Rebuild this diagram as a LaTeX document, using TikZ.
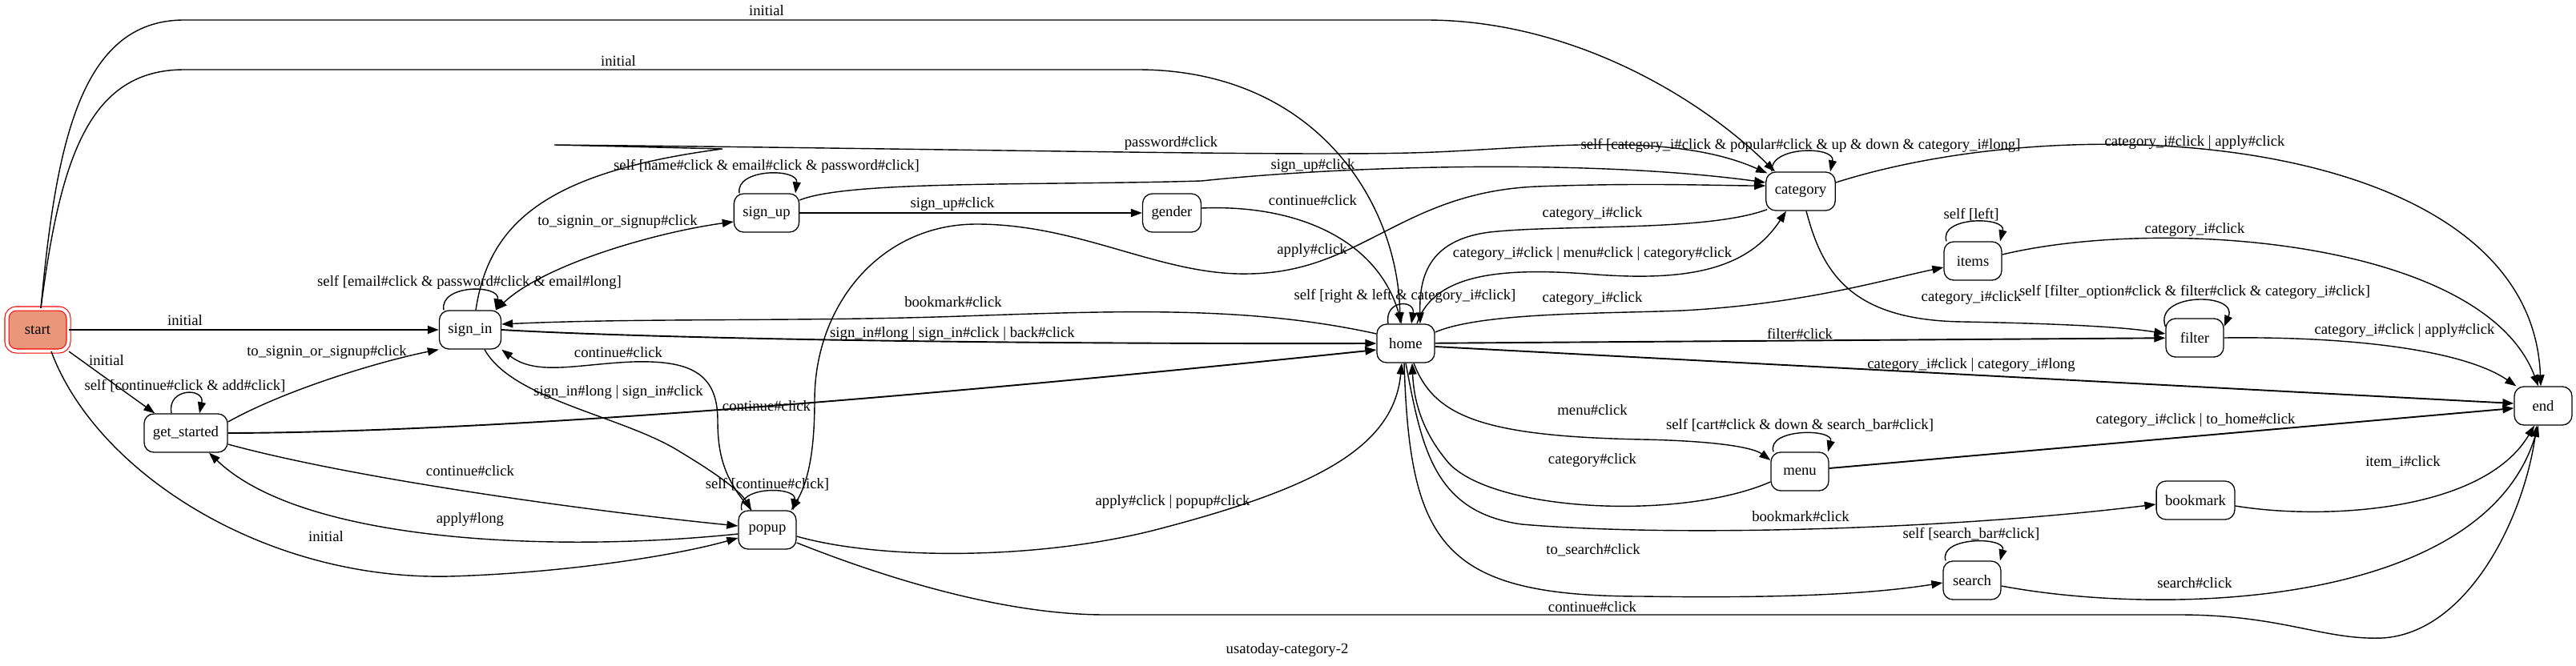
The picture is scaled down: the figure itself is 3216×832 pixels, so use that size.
\documentclass[tikz,border=0pt]{standalone}
\usepackage{fontspec}
\setmainfont{Liberation Serif}
\usetikzlibrary{arrows.meta}
\definecolor{startfill}{HTML}{E9967A}
\newcommand\gvfont{\fontsize{18.7pt}{22pt}\selectfont}
\tikzset{
  every node/.style={font=\gvfont},
  stnode/.style={draw, rounded corners=12pt, minimum width=72pt, minimum height=48pt, inner xsep=11pt, line width=1.3pt},
  trans/.style={-{Triangle[length=14pt,width=10pt]}, line width=1.4pt},
  twoway/.style={{Triangle[length=14pt,width=10pt]}-{Triangle[length=14pt,width=10pt]}},
  heavy/.style={line width=1.9pt},
  lbl/.style={inner sep=0pt},
}
\begin{document}
\begin{tikzpicture}[x=1pt,y=-1pt]
\useasboundingbox (0,0) rectangle (3216,832);
% states
\node [stnode, fill=startfill, draw=red, double=white, double distance=4pt, line width=1.1pt, minimum width=77pt, minimum height=53pt] (start) at (47,412) {start};
\node [stnode] (sign_in) at (587,412) {sign\_in};
\node [stnode] (get_started) at (232,541) {get\_started};
\node [stnode] (popup) at (958,662) {popup};
\node [stnode] (sign_up) at (957,266) {sign\_up};
\node [stnode] (gender) at (1463,266) {gender};
\node [stnode] (home) at (1755,429) {home};
\node [stnode] (category) at (2248,239) {category};
\node [stnode] (items) at (2463,326) {items};
\node [stnode] (filter) at (2740,422) {filter};
\node [stnode] (end) at (3175,507) {end};
\node [stnode] (menu) at (2247,589) {menu};
\node [stnode] (bookmark) at (2741,625) {bookmark};
\node [stnode] (search) at (2462,725) {search};
\node (title) at (1607,812) {usatoday-category-2};
% from start
\draw [trans] ([xshift=4pt]start.north) .. controls (70,180) and (100,25) .. (230,25) -- (1780,25) .. controls (1960,25) and (2120,120) .. ([xshift=-32pt]category.north);
\draw [trans] ([xshift=4pt]start.north) .. controls (75,200) and (110,87) .. (230,87) -- (1420,87) .. controls (1640,87) and (1745,250) .. ([xshift=-7pt]home.north);
\draw [trans,heavy] (start) -- (sign_in);
\draw [trans] (start.south east) -- ([xshift=14pt]get_started.north west);
\draw [trans] ([xshift=17pt]start.south) .. controls (120,590) and (330,725) .. (561,720) .. controls (700,716) and (840,695) .. ([yshift=-10pt]popup.west);
\node [lbl] (l-ini-cat) at (957,13) {initial};
\node [lbl] (l-ini-home) at (772,76) {initial};
\node [lbl] (l-ini-sin) at (231,400) {initial};
\node [lbl] (l-ini-gs) at (133,450) {initial};
\node [lbl] (l-ini-pop) at (407,670) {initial};
% get_started
\draw [trans] ([xshift=-18pt]get_started.north) .. controls (208,484) and (256,484) .. ([xshift=17pt]get_started.north);
\draw [trans] ([yshift=14pt]get_started.east) .. controls (360,485) and (480,450) .. (sign_in.south west);
\draw [trans,heavy] (get_started.east) .. controls (700,540) and (1400,470) .. ([yshift=-8pt]home.west);
\draw [trans] ([yshift=-14pt]get_started.east) .. controls (450,600) and (750,640) .. ([yshift=5pt]popup.west);
\draw [trans] ([yshift=-5pt]popup.west) .. controls (700,690) and (380,680) .. ([xshift=29pt]get_started.south);
\node [lbl] (l-gs-self) at (231,482) {self [continue\#click \& add\#click]};
\node [lbl] (l-gs-sin) at (408,440) {to\_signin\_or\_signup\#click};
\node [lbl] (l-gs-home) at (957,507) {continue\#click};
\node [lbl] (l-gs-pop) at (587,588) {continue\#click};
\node [lbl] (l-pop-gs) at (587,649) {apply\#long};
% sign_in
\draw [trans] ([xshift=-33pt]sign_in.north) .. controls (548,355) and (625,355) .. ([xshift=32pt]sign_in.north);
\draw [trans,twoway] ([xshift=32pt]sign_in.north) .. controls (680,330) and (820,290) .. ([yshift=-11pt]sign_up.west);
\draw [trans] ([xshift=7pt]sign_in.north) .. controls (610,280) and (680,215) .. (902,186) -- (692,181) .. controls (1200,186) and (1600,195) .. (1760,191) .. controls (1900,188) and (2080,160) .. ([xshift=2pt,yshift=-2pt]category.north west);
\draw [trans,heavy] (sign_in.east) .. controls (800,422) and (1200,430) .. (home.west);
\draw [trans] ([xshift=18pt]sign_in.south) .. controls (640,500) and (780,520) .. (850,565) .. controls (900,595) and (925,615) .. ([xshift=-20pt]popup.north);
\node [lbl] (l-sin-self) at (586,353) {self [email\#click \& password\#click \& email\#long]};
\node [lbl] (l-sin-sup) at (771,277) {to\_signin\_or\_signup\#click};
\node [lbl] (l-sin-cat) at (1462,179) {password\#click};
\node [lbl] (l-sin-home) at (1189,417) {sign\_in\#long | sign\_in\#click | back\#click};
\node [lbl] (l-sin-pop) at (772,490) {sign\_in\#long | sign\_in\#click};
% sign_up and gender
\draw [trans] ([xshift=-34pt]sign_up.north) .. controls (918,210) and (997,210) .. ([xshift=36pt]sign_up.north);
\draw [trans,heavy] (sign_up) -- (gender);
\draw [trans] ([yshift=16pt]sign_up.east) .. controls (1060,225) and (1300,232) .. (1500,226) .. controls (1700,205) and (2000,200) .. ([yshift=11pt]category.west);
\draw [trans] ([yshift=6pt]gender.east) .. controls (1620,255) and (1720,300) .. ([xshift=-5pt]home.north);
\node [lbl] (l-sup-self) at (957,208) {self [name\#click \& email\#click \& password\#click]};
\node [lbl] (l-sup-gen) at (1189,255) {sign\_up\#click};
\node [lbl] (l-sup-cat) at (1639,207) {sign\_up\#click};
\node [lbl] (l-gen-home) at (1639,250) {continue\#click};
% popup
\draw [trans] ([xshift=-32pt]popup.north) .. controls (918,607) and (995,607) .. ([xshift=32pt]popup.north);
\draw [trans] ([xshift=-20pt]popup.north) .. controls (905,600) and (896,570) .. (896,525) .. controls (896,465) and (860,450) .. (790,452) .. controls (720,455) and (670,470) .. (sign_in.south east);
\draw [trans,twoway] ([xshift=30pt]popup.north) .. controls (1010,600) and (1017,560) .. (1017,500) .. controls (1017,380) and (1100,280) .. (1219,280) .. controls (1350,280) and (1450,345) .. (1560,342) .. controls (1700,340) and (1750,240) .. (1919,233) .. controls (2050,228) and (2150,232) .. ([yshift=7pt]category.west);
\draw [trans] ([yshift=-8pt]popup.east) .. controls (1100,700) and (1300,700) .. (1450,660) .. controls (1640,610) and (1740,560) .. ([xshift=-5pt]home.south);
\draw [trans] ([yshift=-16pt]popup.east) .. controls (1100,720) and (1250,768) .. (1380,768) -- (2720,768) .. controls (2850,768) and (2900,800) .. (2975,797) .. controls (3080,790) and (3150,650) .. ([xshift=-8pt]end.south);
\node [lbl] (l-pop-self) at (958,605) {self [continue\#click]};
\node [lbl] (l-pop-sin) at (772,440) {continue\#click};
\node [lbl] (l-pop-cat) at (1638,313) {apply\#click};
\node [lbl] (l-pop-home) at (1464,627) {apply\#click | popup\#click};
\node [lbl] (l-pop-end) at (1988,758) {continue\#click};
% home
\draw [trans] ([xshift=-22pt]home.north) .. controls (1728,374) and (1767,374) .. ([xshift=7pt]home.north);
\draw [trans] ([yshift=12pt]home.west) .. controls (1560,382) and (1400,388) .. (1200,395) .. controls (1000,402) and (800,397) .. ([yshift=7pt]sign_in.east);
\draw [trans] ([xshift=14pt]home.north) .. controls (1790,340) and (1880,335) .. (1980,342) .. controls (2100,352) and (2180,340) .. ([xshift=-18pt]category.south);
\draw [trans] ([yshift=14pt]home.east) .. controls (1850,390) and (2000,392) .. (2100,388) .. controls (2250,380) and (2350,350) .. ([yshift=-8pt]items.west);
\draw [trans,heavy] (home) -- (filter);
\draw [trans,heavy] ([yshift=-4pt]home.east) -- ([yshift=3pt]end.west);
\draw [trans] ([xshift=10pt]home.south) .. controls (1790,520) and (1850,545) .. (2050,549) .. controls (2150,551) and (2190,560) .. ([yshift=14pt]menu.west);
\draw [trans] (home.south) .. controls (1775,560) and (1790,640) .. (1900,655) .. controls (2100,672) and (2450,660) .. ([yshift=-5pt]bookmark.west);
\draw [trans] ([xshift=-2pt]home.south) .. controls (1760,680) and (1800,745) .. (2050,745) .. controls (2250,748) and (2350,740) .. ([yshift=-3pt]search.west);
\node [lbl] (l-home-self) at (1754,370) {self [right \& left \& category\_i\#click]};
\node [lbl] (l-home-sin) at (1190,377) {bookmark\#click};
\node [lbl] (l-home-cat) at (1988,317) {category\_i\#click | menu\#click | category\#click};
\node [lbl] (l-home-items) at (1988,373) {category\_i\#click};
\node [lbl] (l-home-filter) at (2247,417) {filter\#click};
\node [lbl] (l-home-end) at (2461,456) {category\_i\#click | category\_i\#long};
\node [lbl] (l-home-menu) at (1988,512) {menu\#click};
\node [lbl] (l-home-bm) at (2248,645) {bookmark\#click};
\node [lbl] (l-home-search) at (1989,687) {to\_search\#click};
% category, items, filter
\draw [trans] ([xshift=-36pt]category.north) .. controls (2208,182) and (2292,182) .. ([xshift=37pt]category.north);
\draw [trans] ([xshift=2pt,yshift=2pt]category.south west) .. controls (2130,290) and (1950,280) .. (1860,290) .. controls (1780,300) and (1772,350) .. ([xshift=18pt]home.north);
\draw [trans] ([yshift=11pt]category.east) .. controls (2600,130) and (3160,170) .. ([xshift=-3pt]end.north);
\draw [trans] ([xshift=7pt]category.south) .. controls (2275,340) and (2310,400) .. (2450,402) .. controls (2560,404) and (2650,408) .. ([yshift=5pt]filter.west);
\draw [trans] ([xshift=-33pt]items.north) .. controls (2420,270) and (2505,270) .. ([xshift=34pt]items.north);
\draw [trans] ([yshift=8pt]items.east) .. controls (2700,270) and (3100,300) .. ([xshift=-6pt]end.north);
\draw [trans] ([yshift=14pt]filter.west) .. controls (2688,365) and (2795,365) .. ([yshift=14pt]filter.east);
\draw [trans] (filter.east) .. controls (2950,420) and (3080,440) .. ([xshift=3pt]end.north west);
\node [lbl] (l-cat-self) at (2248,182) {self [category\_i\#click \& popular\#click \& up \& down \& category\_i\#long]};
\node [lbl] (l-cat-home) at (1988,267) {category\_i\#click};
\node [lbl] (l-cat-end) at (2740,178) {category\_i\#click | apply\#click};
\node [lbl] (l-cat-filter) at (2461,372) {category\_i\#click};
\node [lbl] (l-items-self) at (2461,268) {self [left]};
\node [lbl] (l-items-end) at (2740,287) {category\_i\#click};
\node [lbl] (l-filter-self) at (2740,365) {self [filter\_option\#click \& filter\#click \& category\_i\#click]};
\node [lbl] (l-filter-end) at (3002,413) {category\_i\#click | apply\#click};
% menu, bookmark, search
\draw [trans] ([xshift=-33pt]menu.north) .. controls (2205,535) and (2290,535) .. ([xshift=35pt]menu.north);
\draw [trans] ([yshift=-13pt]menu.west) .. controls (2100,650) and (1870,640) .. (1810,580) .. controls (1775,540) and (1765,500) .. ([xshift=8pt]home.south);
\draw [trans,heavy] ([yshift=4pt]menu.east) -- ([yshift=-3pt]end.west);
\draw [trans] ([yshift=-7pt]bookmark.east) .. controls (2900,650) and (3100,640) .. ([xshift=-11pt]end.south);
\draw [trans] ([xshift=-33pt]search.north) .. controls (2420,670) and (2505,670) .. ([xshift=35pt]search.north);
\draw [trans] ([yshift=-7pt]search.east) .. controls (2700,770) and (3100,760) .. ([xshift=-6pt]end.south);
\node [lbl] (l-menu-self) at (2247,531) {self [cart\#click \& down \& search\_bar\#click]};
\node [lbl] (l-menu-home) at (1988,575) {category\#click};
\node [lbl] (l-menu-end) at (2741,525) {category\_i\#click | to\_home\#click};
\node [lbl] (l-bm-end) at (3000,577) {item\_i\#click};
\node [lbl] (l-search-self) at (2461,667) {self [search\_bar\#click]};
\node [lbl] (l-search-end) at (2740,728) {search\#click};
\end{tikzpicture}
\end{document}
